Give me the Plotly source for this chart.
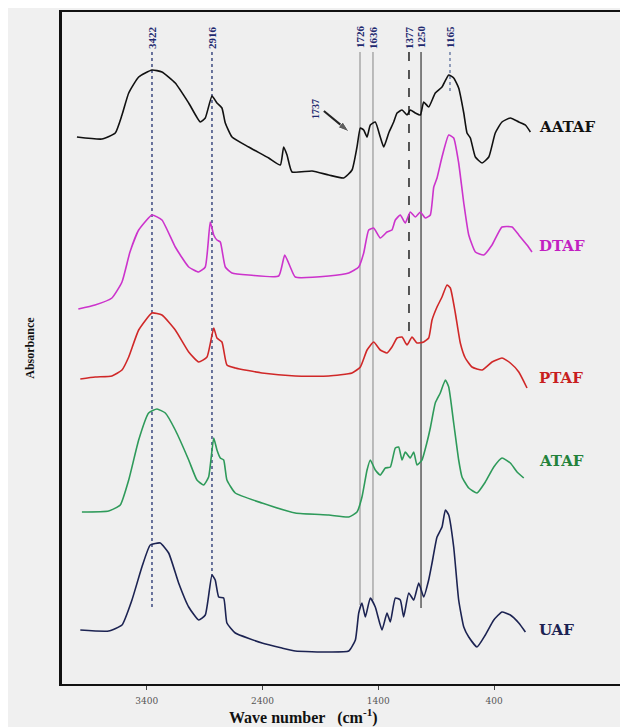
import plotly.graph_objects as go

# ---------------- data ----------------
aataf_wn = [4002, 3786, 3671, 3613, 3555, 3469, 3354, 3268, 3153, 3037, 2937, 2894, 2836, 2793, 2750, 2721,
            2663, 2519, 2346, 2246, 2217, 2188, 2145, 1972, 1828, 1699, 1627, 1584, 1555, 1526, 1497, 1469,
            1426, 1383, 1353, 1310, 1267, 1238, 1195, 1152, 1124, 1080, 1037, 1008, 965, 908, 850, 792,
            749, 706, 662, 634, 605, 562, 504, 446, 390, 332, 260, 187, 130, 87]
aataf_ab = [5.47, 5.45, 5.51, 5.69, 5.91, 6.07, 6.14, 6.12, 6.01, 5.81, 5.62, 5.66, 5.88, 5.81, 5.76, 5.61,
            5.47, 5.37, 5.26, 5.19, 5.37, 5.29, 5.12, 5.13, 5.09, 5.06, 5.14, 5.37, 5.56, 5.54, 5.47, 5.59,
            5.62, 5.47, 5.37, 5.51, 5.62, 5.71, 5.74, 5.69, 5.74, 5.71, 5.69, 5.82, 5.77, 5.91, 5.97, 6.09,
            6.06, 5.96, 5.71, 5.51, 5.46, 5.27, 5.21, 5.27, 5.51, 5.62, 5.66, 5.62, 5.59, 5.52]

dtaf_wn = [3990, 3846, 3700, 3613, 3544, 3469, 3354, 3268, 3153, 3037, 2951, 2894, 2851, 2821, 2793, 2764,
           2721, 2663, 2519, 2260, 2208, 2160, 2117, 1828, 1655, 1569, 1526, 1483, 1440, 1383, 1325, 1282,
           1253, 1210, 1167, 1124, 1080, 1037, 994, 951, 921, 893, 850, 792, 749, 706, 662, 619,
           562, 490, 418, 332, 245, 187, 116, 73]
dtaf_ab = [3.75, 3.79, 3.86, 4.02, 4.32, 4.54, 4.69, 4.64, 4.37, 4.17, 4.12, 4.17, 4.62, 4.49, 4.44, 4.42,
           4.17, 4.11, 4.09, 4.08, 4.29, 4.17, 4.07, 4.08, 4.11, 4.17, 4.31, 4.54, 4.56, 4.46, 4.52, 4.54,
           4.64, 4.69, 4.61, 4.72, 4.67, 4.72, 4.66, 4.69, 4.97, 5.06, 5.27, 5.49, 5.46, 5.21, 4.81, 4.49,
           4.32, 4.29, 4.39, 4.57, 4.57, 4.49, 4.39, 4.32]

ptaf_wn = [3973, 3844, 3700, 3613, 3555, 3469, 3354, 3268, 3153, 3037, 2951, 2879, 2821, 2793, 2750, 2707,
           2635, 2404, 2117, 1828, 1627, 1555, 1497, 1440, 1383, 1325, 1282, 1238, 1195, 1152, 1109, 1066,
           1008, 965, 936, 893, 850, 807, 778, 735, 692, 649, 591, 504, 418, 332, 260, 187, 116]
ptaf_ab = [3.05, 3.07, 3.08, 3.14, 3.27, 3.54, 3.71, 3.69, 3.54, 3.32, 3.22, 3.27, 3.56, 3.46, 3.42, 3.19,
           3.16, 3.11, 3.08, 3.08, 3.11, 3.17, 3.34, 3.42, 3.34, 3.31, 3.37, 3.46, 3.47, 3.39, 3.47, 3.41,
           3.42, 3.46, 3.64, 3.77, 3.87, 3.99, 3.96, 3.71, 3.41, 3.26, 3.17, 3.14, 3.22, 3.26, 3.21, 3.12, 2.96]

ataf_wn = [3959, 3728, 3628, 3555, 3469, 3383, 3311, 3239, 3153, 3037, 2966, 2908, 2865, 2821, 2793, 2764,
           2735, 2707, 2635, 2404, 2117, 1828, 1655, 1584, 1541, 1497, 1469, 1426, 1383, 1339, 1296, 1253,
           1224, 1195, 1167, 1124, 1094, 1066, 1023, 979, 951, 908, 865, 821, 792, 749, 706, 677,
           619, 548, 476, 403, 332, 260, 202, 144]
ataf_ab = [1.72, 1.73, 1.79, 2.04, 2.44, 2.71, 2.75, 2.71, 2.54, 2.24, 2.04, 1.99, 2.07, 2.46, 2.34, 2.26,
           2.24, 2.04, 1.91, 1.81, 1.71, 1.69, 1.67, 1.72, 1.87, 2.14, 2.24, 2.14, 2.09, 2.16, 2.17, 2.36,
           2.37, 2.24, 2.32, 2.26, 2.32, 2.19, 2.24, 2.42, 2.56, 2.81, 2.91, 3.04, 2.97, 2.61, 2.24, 2.07,
           1.96, 1.91, 2.02, 2.17, 2.26, 2.21, 2.12, 2.06]

uaf_wn = [3973, 3728, 3613, 3527, 3441, 3369, 3283, 3210, 3124, 3037, 2951, 2894, 2836, 2808, 2778, 2735,
          2707, 2635, 2404, 2232, 2117, 1828, 1655, 1598, 1569, 1541, 1512, 1469, 1426, 1368, 1325, 1296,
          1253, 1210, 1181, 1137, 1094, 1051, 1008, 965, 936, 893, 850, 821, 792, 749, 706, 662,
          619, 548, 476, 403, 332, 260, 187, 130]
uaf_ab = [0.54, 0.53, 0.59, 0.84, 1.17, 1.39, 1.41, 1.31, 1.01, 0.77, 0.64, 0.69, 1.09, 1.04, 0.87, 0.86,
          0.61, 0.51, 0.41, 0.36, 0.33, 0.32, 0.33, 0.44, 0.71, 0.81, 0.67, 0.86, 0.77, 0.54, 0.71, 0.62,
          0.86, 0.84, 0.67, 0.91, 0.84, 1.01, 0.87, 1.04, 1.21, 1.47, 1.57, 1.74, 1.69, 1.37, 0.84, 0.57,
          0.47, 0.37, 0.49, 0.64, 0.72, 0.69, 0.61, 0.52]

sample_names = ["AATAF", "DTAF", "PTAF", "ATAF", "UAF"]
sample_colors = ["#111111", "#cc33cc", "#d02828", "#2e9a5a", "#1c2352"]
label_colors = ["#111111", "#c21fc2", "#c81e1e", "#23823a", "#1c2352"]
label_y = [5.57, 4.38, 3.06, 2.23, 0.54]
label_x = 30

# marker lines: label, position on the axis, bottom end
peak_labels = ["3422", "2916", "1726", "1636", "1377", "1250", "1165"]
peak_pos = [3354, 2836, 1558, 1446, 1135, 1031, 781]
peak_bottom = [0.76, 1.04, 0.79, 0.84, 3.46, 0.76, 5.91]
peak_top = 6.32
peak_label_y = 6.47
peak_colors = ["#3d4a80", "#3d4a80", "#a8a8a8", "#a8a8a8", "#222222", "#5a5a5a", "#7080a8"]
peak_dash = ["dot", "dot", "solid", "solid", "dash", "solid", "dot"]

arrow_label = "1737"
arrow_label_pos = (1947, 5.75)
arrow_wn = [1870, 1650]
arrow_ab = [5.73, 5.52]

x_ticks = [3400, 2400, 1400, 400]

# ---------------- figure ----------------
fig = go.Figure()

for lbl, p, b, c, d in zip(peak_labels, peak_pos, peak_bottom, peak_colors, peak_dash):
    fig.add_trace(go.Scatter(x=[p, p], y=[peak_top, b], mode="lines",
                             line=dict(color=c, width=1.5, dash=d), showlegend=False, hoverinfo="skip"))
    fig.add_annotation(x=p, y=peak_label_y, text="<b>%s</b>" % lbl, showarrow=False, textangle=-90,
                       font=dict(family="Liberation Serif", size=11, color="#1f2a70"),
                       xanchor="center", yanchor="middle")

spectra = [(aataf_wn, aataf_ab), (dtaf_wn, dtaf_ab), (ptaf_wn, ptaf_ab), (ataf_wn, ataf_ab), (uaf_wn, uaf_ab)]
for (wn, ab), name, col in zip(spectra, sample_names, sample_colors):
    fig.add_trace(go.Scatter(x=wn, y=ab, mode="lines", name=name,
                             line=dict(color=col, width=1.6, shape="spline", smoothing=0.45),
                             showlegend=False))

for name, col, ly in zip(sample_names, label_colors, label_y):
    fig.add_annotation(x=label_x, y=ly, text="<b>%s</b>" % name, showarrow=False,
                       xanchor="left", yanchor="middle",
                       font=dict(family="DejaVu Serif", size=15, color=col))

# 1737 pointer
fig.add_annotation(x=arrow_label_pos[0], y=arrow_label_pos[1], text="<b>%s</b>" % arrow_label,
                   showarrow=False, textangle=-90,
                   font=dict(family="Liberation Serif", size=10, color="#1f2a70"))
fig.add_trace(go.Scatter(x=arrow_wn, y=arrow_ab, mode="lines+markers",
                         line=dict(color="#222222", width=2),
                         marker=dict(symbol="arrow", size=[0, 12], angleref="previous", color="#222222"),
                         showlegend=False, hoverinfo="skip"))

fig.add_annotation(xref="paper", yref="paper", x=-0.057, y=0.5, text="<b>Absorbance</b>",
                   showarrow=False, textangle=-90, xanchor="center", yanchor="middle",
                   font=dict(family="Liberation Serif", size=12, color="#111111"))

fig.add_annotation(xref="paper", yref="paper", x=0.426, y=-0.048,
                   text="<b>Wave number   (cm<sup>-1</sup>)</b>",
                   showarrow=False, xanchor="center", yanchor="middle",
                   font=dict(family="Liberation Serif", size=16, color="#111111"))

# the page body adds an 8 px offset, so the figure is 8 px smaller and margins shifted
fig.update_layout(
    width=620, height=719,
    margin=dict(l=54, r=0, t=4, b=43),
    paper_bgcolor="#f0f0f0", plot_bgcolor="#efefef",
    xaxis=dict(range=[4131, -756], showgrid=False, zeroline=False,
               showline=True, linecolor="#111111", linewidth=2, mirror=True,
               tickvals=x_ticks, ticks="outside", ticklen=4, tickcolor="#444444",
               ticklabelstandoff=3,
               tickfont=dict(family="DejaVu Serif", size=9, color="#555555")),
    yaxis=dict(range=[0, 6.72], showgrid=False, zeroline=False, showticklabels=False,
               showline=True, linecolor="#111111", linewidth=3, ticks=""),
)

fig.write_html("out.html")
